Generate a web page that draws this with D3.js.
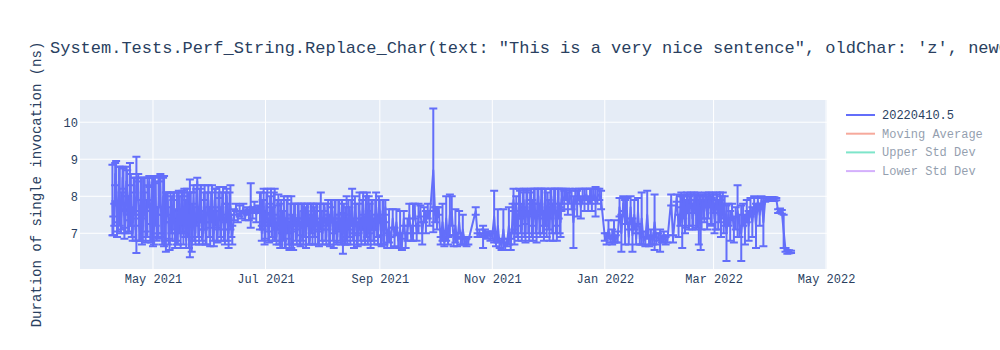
<!DOCTYPE html>
<html><head><meta charset="utf-8">
<script src="https://cdn.jsdelivr.net/npm/d3@7"></script>
<style>body{margin:0;background:#fff} text{font-family:"Liberation Mono","Courier New",monospace}</style>
</head><body><svg id="c" width="1000" height="350"></svg>
<script>
const titleText = "System.Tests.Perf_String.Replace_Char(text: \"This is a very nice sentence\", oldChar: 'z', newChar: 'y')";
const yTitle = "Duration of single invocation (ns)";
const startDate = new Date(2021, 3, 1);
const dayOffsets = [
8,9,10,11,12,13,14,15,16,17,18,19,20,21,
22,23,24,25,26,27,28,29,30,31,32,33,34,35,36,
37,38,39,40,41,42,43,44,
45,46,47,48,49,50,51,52,53,
54,55,56,57,58,59,60,61,62,63,64,65,66,67,68,69,70,71,72,73,
74,75,76,77,78,79,80,81,82,83,84,85,86,87,
88,89,90,91,92,93,94,95,96,97,98,
99,100,101,102,103,104,105,106,
107,108,109,110,111,112,113,114,115,116,117,118,119,120,121,122,123,
124,125,126,127,128,129,130,131,132,133,134,135,136,137,138,139,140,
141,142,143,144,145,146,147,148,149,150,151,152,153,154,155,156,
157,158,159,160,161,162,163,164,165,166,167,
168,169,170,171,172,173,174,175,176,177,178,179,180,182,183,184,185,
186,187,188,189,190,191,192,193,194,195,196,197,198,199,200,201,205,
206,207,208,209,210,211,212,213,214,215,
216,217,218,219,220,221,222,223,224,
225,226,227,228,229,230,231,232,233,234,235,236,237,238,239,240,241,242,243,244,245,246,247,248,249,250,251,252,
253,254,255,256,257,258,259,260,261,262,263,264,265,266,267,268,269,270,271,272,273,
275,276,277,278,279,280,281,282,
283,284,285,286,287,288,289,290,291,292,293,
294,295,296,297,298,299,300,301,302,303,304,305,306,307,308,309,311,312,314,315,
316,317,318,319,320,321,322,323,324,325,326,327,328,329,330,331,332,333,334,335,336,337,338,339,340,
341,342,343,344,345,346,347,348,349,350,351,352,353,
354,355,356,357,358,359,360,361,362,
363,364,365,366,367,368,369,370,371,372,373,374,375,376,
// second daily run
8.5,9.5,10.5,11.5,12.5,13.5,14.5,15.5,16.5,17.5,18.5,19.5,20.5,21.5,22.5,23.5,24.5,25.5,26.5,27.5,28.5,29.5,30.5,31.5,32.5,33.5,34.5,35.5,36.5,
37.5,38.5,39.5,40.5,41.5,42.5,43.5,44.5,45.5,46.5,47.5,48.5,49.5,50.5,51.5,52.5,53.5,54.5,55.5,56.5,57.5,58.5,59.5,60.5,61.5,62.5,63.5,64.5,65.5,66.5,67.5,68.5,69.5,70.5,71.5,72.5,
88.5,89.5,90.5,91.5,92.5,93.5,94.5,95.5,96.5,97.5,98.5,99.5,100.5,101.5,102.5,103.5,104.5,105.5,106.5,107.5,108.5,109.5,110.5,111.5,112.5,113.5,114.5,115.5,116.5,117.5,118.5,119.5,120.5,121.5,
122.5,123.5,124.5,125.5,126.5,127.5,128.5,129.5,130.5,131.5,132.5,133.5,134.5,135.5,136.5,137.5,138.5,139.5,140.5,141.5,142.5,143.5,144.5,145.5,146.5,147.5,148.5,149.5,150.5,151.5,152.5,153.5,154.5,155.5,
225.5,226.5,227.5,228.5,229.5,230.5,231.5,232.5,233.5,234.5,235.5,236.5,237.5,238.5,239.5,240.5,241.5,242.5,243.5,244.5,245.5,246.5,247.5,248.5,249.5,250.5,251.5,
316.5,317.5,318.5,319.5,320.5,321.5,322.5,323.5,324.5,325.5,326.5,327.5,328.5,329.5,330.5,331.5,332.5,333.5,334.5,335.5,336.5,337.5,338.5,339.5];
const durations = [
7.9,7.5,8.4,7.4,8.0,7.6,8.2,7.3,8.1,7.2,7.9,7.0,8.3,7.77,
8.5,7.0,7.6,8.3,6.9,7.7,8.4,7.0,7.6,8.45,6.9,7.7,8.5,6.85,7.6,
7.3,7.9,6.7,7.5,8.0,6.8,7.4,7.9,
6.9,7.6,8.1,6.8,7.5,7.4,6.7,8.2,7.0,
8.4,7.0,7.8,6.9,8.1,7.1,7.9,6.9,8.0,7.0,7.7,6.95,8.1,7.1,7.8,6.9,8.0,7.0,7.7,6.95,
7.5,7.7,7.4,7.6,7.5,7.7,7.45,7.6,7.5,7.75,7.55,7.7,7.5,7.65,
7.6,7.0,7.9,7.2,7.7,6.9,8.0,7.1,7.5,6.9,7.9,
7.2,6.8,7.7,7.0,7.5,6.7,7.3,6.8,
7.5,6.9,7.6,6.8,7.3,7.7,6.9,7.6,6.8,7.4,7.7,6.9,7.5,6.85,7.6,7.0,7.7,
6.9,7.6,7.0,7.8,6.8,7.5,6.9,7.7,7.0,7.0,6.8,7.4,7.7,6.9,7.7,6.8,7.5,
6.8,7.6,7.0,7.8,6.9,7.5,7.8,6.8,7.5,6.9,7.7,7.0,7.6,6.8,7.3,7.7,
6.8,7.2,6.75,7.4,6.9,7.3,6.8,7.1,6.7,7.4,6.8,
7.1,7.5,6.9,7.3,7.6,7.0,7.4,7.6,7.0,7.5,7.3,7.6,7.4,8.7,7.5,7.4,7.6,
6.8,7.3,6.75,7.4,6.8,7.5,7.6,6.8,7.2,6.75,7.3,6.8,7.1,6.8,6.75,6.8,7.6,
6.95,7.0,6.95,6.9,7.0,6.95,7.0,6.9,6.95,7.45,
6.75,7.2,6.7,6.7,7.1,6.65,6.75,7.2,6.7,
7.4,6.9,7.7,7.0,7.8,7.1,7.9,7.0,7.8,7.2,8.0,7.0,7.8,7.1,8.0,7.2,7.9,7.0,7.7,7.9,7.1,8.0,7.2,7.9,7.0,7.8,7.3,8.0,
7.9,8.05,7.8,8.0,7.9,7.3,8.0,7.8,8.05,7.7,8.0,7.9,8.05,7.8,8.0,7.9,8.05,7.85,8.0,8.05,7.9,
6.9,6.85,7.1,6.85,6.9,7.05,6.85,6.9,
7.7,7.0,7.8,7.3,7.6,6.9,7.7,6.95,7.5,6.85,7.6,
6.85,7.4,6.8,6.85,7.5,6.8,6.9,6.8,7.3,6.85,6.9,6.8,6.85,6.9,6.8,6.85,7.9,6.85,7.95,7.2,
7.6,7.3,7.9,7.5,7.8,7.6,7.9,7.5,7.8,7.6,7.2,7.3,7.9,7.6,7.95,7.7,7.9,7.6,7.8,7.5,7.85,7.6,7.4,7.8,7.6,
7.0,7.5,7.2,7.6,7.1,7.4,7.6,7.2,7.0,7.5,7.1,7.6,7.2,
7.7,7.3,7.8,7.2,7.85,7.5,7.9,7.3,7.9,
7.92,7.93,7.92,7.93,7.92,7.92,7.6,7.62,7.58,7.05,6.55,6.5,6.5,6.5,
// second daily run
7.2,8.6,7.1,8.3,7.3,8.5,7.0,8.4,7.5,8.6,7.3,8.0,7.1,8.2,7.2,8.0,7.1,8.1,7.4,8.0,7.2,8.2,7.1,7.8,7.3,8.1,7.2,8.0,7.2,
7.8,7.0,7.7,7.1,7.6,7.2,7.0,7.5,7.8,7.0,7.4,7.9,7.0,7.8,7.3,7.1,7.7,7.3,7.9,7.2,7.6,7.0,7.8,7.3,7.7,7.1,7.9,7.2,7.6,7.3,7.8,7.1,7.7,7.3,7.8,7.2,
7.9,7.5,7.0,7.8,7.1,7.6,7.3,7.8,7.0,7.5,7.0,7.6,7.2,6.9,7.6,7.0,7.5,7.1,7.6,7.1,7.5,7.0,7.6,7.0,7.3,7.5,7.1,7.6,7.0,7.3,7.6,7.0,7.5,7.2,
7.6,7.1,7.5,7.1,7.6,7.1,7.6,7.0,7.5,7.1,7.6,7.5,7.2,7.0,7.3,7.6,7.1,7.6,7.0,7.4,7.1,7.5,7.1,7.7,7.0,7.3,7.6,7.1,7.5,7.2,7.7,7.1,7.6,7.0,
7.9,7.4,7.2,7.9,7.4,7.8,7.3,7.9,7.3,7.8,7.4,7.9,7.3,7.9,7.4,7.9,7.3,7.8,7.2,7.5,7.8,7.4,7.9,7.3,7.9,7.4,7.9,
7.9,7.7,7.4,7.9,7.5,7.9,7.4,7.9,7.5,7.9,7.7,7.5,7.7,7.9,7.5,7.9,7.5,7.9,7.4,7.9,7.5,7.9,7.7,7.4];
const errors = [
0.95,0.3,0.55,0.35,0.8,0.5,0.55,0.3,0.6,0.15,0.7,0.2,0.2,1.3,
0.1,0.2,0.9,0.2,0.15,0.8,0.15,0.25,0.95,0.1,0.1,0.85,0.1,0.15,0.95,
0.8,0.2,0.15,0.5,0.1,0.2,0.7,0.25,
0.3,0.55,0.1,0.2,0.6,1.05,0.2,0.1,0.3,
0.1,0.3,0.5,0.2,0.2,0.4,0.4,0.25,0.3,0.35,0.5,0.2,0.15,0.3,0.45,0.2,0.2,0.4,0.6,0.25,
0.15,0.1,0.1,0.15,0.1,0.1,0.1,0.1,0.15,0.6,0.15,0.15,0.2,0.1,
0.5,0.2,0.3,0.35,0.5,0.15,0.2,0.3,0.7,0.2,0.15,
0.6,0.2,0.3,0.4,0.5,0.15,0.7,0.25,
0.3,0.2,0.2,0.15,0.5,0.1,0.3,0.2,0.1,0.4,0.1,0.2,0.3,0.2,0.5,0.3,0.1,
0.2,0.3,0.35,0.1,0.2,0.4,0.15,0.2,0.3,0.55,0.1,0.6,0.2,0.2,0.5,0.2,0.3,
0.15,0.5,0.3,0.3,0.2,0.6,0.2,0.2,0.4,0.2,0.4,0.3,0.3,0.15,0.6,0.2,
0.2,0.45,0.15,0.25,0.25,0.35,0.2,0.5,0.15,0.2,0.2,
0.3,0.3,0.1,0.5,0.2,0.2,0.4,0.15,0.3,0.2,0.3,0.2,0.2,1.67,0.2,0.3,0.1,
0.1,0.5,0.1,0.6,0.1,0.55,0.4,0.15,0.45,0.1,0.3,0.1,0.4,0.1,0.1,0.1,0.1,
0.05,0.1,0.05,0.3,0.1,0.1,0.05,0.1,0.1,0.7,
0.1,0.45,0.1,0.15,0.55,0.1,0.1,0.5,0.15,
0.4,0.2,0.3,0.2,0.35,0.3,0.3,0.25,0.35,0.4,0.2,0.2,0.4,0.35,0.2,0.3,0.3,0.2,0.5,0.2,0.3,0.2,0.4,0.3,0.2,0.4,0.4,0.2,
0.25,0.15,0.3,0.2,0.25,0.7,0.2,0.35,0.15,0.3,0.2,0.3,0.15,0.2,0.2,0.3,0.15,0.4,0.2,0.15,0.25,
0.1,0.15,0.25,0.1,0.2,0.3,0.1,0.15,
0.25,0.5,0.2,0.6,0.35,0.2,0.3,0.45,0.4,0.15,0.35,
0.15,0.7,0.1,0.2,0.65,0.15,0.2,0.1,0.75,0.15,0.1,0.3,0.1,0.15,0.1,0.1,0.15,0.1,0.1,0.3,
0.4,0.7,0.15,0.35,0.25,0.4,0.15,0.3,0.25,0.45,0.5,0.75,0.15,0.3,0.1,0.3,0.15,0.35,0.25,0.4,0.2,0.3,0.5,0.3,0.4,
0.75,0.3,0.4,0.2,0.35,0.3,0.7,0.3,0.75,0.3,0.4,0.3,0.4,
0.25,0.4,0.2,0.6,0.1,0.3,0.1,0.65,0.05,
0.05,0.05,0.05,0.05,0.05,0.03,0.05,0.05,0.05,0.45,0.05,0.05,0.04,0.03,
// second daily run
0.25,0.3,0.2,0.5,0.3,0.3,0.15,0.4,0.5,0.3,0.4,0.5,0.3,0.3,0.4,0.5,0.3,0.4,0.5,0.3,0.4,0.3,0.4,0.6,0.4,0.4,0.3,0.5,0.4,
0.3,0.3,0.4,0.3,0.5,0.4,0.3,0.5,0.3,0.3,0.5,0.3,0.4,0.3,0.5,0.3,0.5,0.4,0.3,0.4,0.5,0.3,0.3,0.4,0.4,0.3,0.3,0.4,0.5,0.4,0.3,0.3,0.4,0.5,0.3,0.3,
0.2,0.4,0.3,0.3,0.3,0.4,0.4,0.3,0.2,0.4,0.3,0.3,0.4,0.3,0.3,0.3,0.3,0.4,0.2,0.3,0.3,0.3,0.2,0.3,0.4,0.3,0.4,0.2,0.3,0.4,0.2,0.3,0.3,0.4,
0.2,0.3,0.3,0.4,0.3,0.3,0.3,0.3,0.4,0.3,0.3,0.3,0.5,0.3,0.4,0.3,0.3,0.4,0.3,0.4,0.3,0.4,0.3,0.3,0.3,0.5,0.3,0.3,0.4,0.3,0.3,0.4,0.3,0.3,
0.3,0.4,0.3,0.3,0.4,0.3,0.4,0.3,0.3,0.3,0.5,0.3,0.3,0.3,0.4,0.3,0.3,0.4,0.3,0.4,0.4,0.4,0.3,0.3,0.3,0.4,0.3,
0.2,0.3,0.4,0.2,0.4,0.2,0.3,0.2,0.4,0.2,0.3,0.4,0.3,0.2,0.4,0.2,0.3,0.2,0.4,0.2,0.4,0.2,0.3,0.4];
const xTickLabels = ["May 2021","Jul 2021","Sep 2021","Nov 2021","Jan 2022","Mar 2022","May 2022"];
const yTicks = [7, 8, 9, 10];
const legendNames = ["20220410.5", "Moving Average", "Upper Std Dev", "Lower Std Dev"];
const legendColors = ["#636efa", "#EF553B", "#00cc96", "#ab63fa"];
const legendVisible = [true, false, false, false];
const xRange = [new Date(2021, 2, 22, 10), new Date(2022, 4, 1, 12)];
const yRange = [6.035, 10.6];

const svg = d3.select("#c");
const L = 80, R = 827, T = 100, B = 269;
const x = d3.scaleTime().domain(xRange).range([L, R]);
const y = d3.scaleLinear().domain(yRange).range([B, T]);
const ink = "#2a3f5f";

svg.append("rect").attr("x", L).attr("y", T).attr("width", R - L).attr("height", B - T).attr("fill", "#E5ECF6");

const parseM = d3.timeParse("%b %Y");
const xTicks = xTickLabels.map(parseM);

const grid = svg.append("g");
grid.selectAll(".gx").data(xTicks).join("line")
  .attr("x1", d => x(d)).attr("x2", d => x(d)).attr("y1", T).attr("y2", B)
  .attr("stroke", "#fff").attr("stroke-width", 1);
grid.selectAll(".gy").data(yTicks).join("line")
  .attr("x1", L).attr("x2", R).attr("y1", d => y(d)).attr("y2", d => y(d))
  .attr("stroke", "#fff").attr("stroke-width", 1);

const xAxis = d3.axisBottom(x).tickValues(xTicks).tickFormat((d, i) => xTickLabels[i]).tickSize(0).tickPadding(0);
const gx = svg.append("g").attr("transform", `translate(0,${B})`).call(xAxis);
gx.select(".domain").remove();
gx.selectAll("text").attr("fill", ink).attr("font-size", 12).attr("font-family", "Liberation Mono, Courier New, monospace").attr("dy", null).attr("y", 14);

const yAxis = d3.axisLeft(y).tickValues(yTicks).tickFormat(d3.format("d")).tickSize(0).tickPadding(0);
const gy = svg.append("g").attr("transform", `translate(${L - 2},0)`).call(yAxis);
gy.select(".domain").remove();
gy.selectAll("text").attr("fill", ink).attr("font-size", 12).attr("font-family", "Liberation Mono, Courier New, monospace").attr("dy", "0.32em").attr("x", 0);

const n = Math.min(dayOffsets.length, durations.length, errors.length);
const pts = d3.range(n).map(i => ({ t: d3.timeHour.offset(startDate, Math.round(dayOffsets[i] * 24)), v: durations[i], e: errors[i] }))
  .sort((a, b) => a.t - b.t);

svg.append("clipPath").attr("id", "clip").append("rect").attr("x", L).attr("y", T).attr("width", R - L).attr("height", B - T);
const plot = svg.append("g").attr("clip-path", "url(#clip)");
const col = legendColors[0];

const eb = plot.append("g").attr("stroke", col).attr("stroke-width", 2).attr("fill", "none");
eb.selectAll("path").data(pts).join("path")
  .attr("d", p => {
    const cx = x(p.t), y1 = y(p.v + p.e), y2 = y(p.v - p.e);
    return `M${cx},${y1}V${y2}M${cx - 4},${y1}H${cx + 4}M${cx - 4},${y2}H${cx + 4}`;
  });

plot.append("path").datum(pts)
  .attr("fill", "none").attr("stroke", col).attr("stroke-width", 2).attr("stroke-linejoin", "round")
  .attr("d", d3.line().x(p => x(p.t)).y(p => y(p.v)));

svg.append("text").attr("x", 50).attr("y", 53).attr("fill", ink).attr("font-size", 17).text(titleText);
svg.append("text").attr("transform", `translate(41,${(T + B) / 2}) rotate(-90)`).attr("text-anchor", "middle")
  .attr("fill", ink).attr("font-size", 14).text(yTitle);

const lg = svg.append("g");
const rows = lg.selectAll("g").data(legendNames).join("g")
  .attr("transform", (d, i) => `translate(846,${115 + i * 18.7})`)
  .attr("opacity", (d, i) => legendVisible[i] ? 1 : 0.5);
rows.append("line").attr("x1", 0).attr("x2", 29).attr("y1", 0).attr("y2", 0)
  .attr("stroke", (d, i) => legendColors[i]).attr("stroke-width", 2);
rows.append("text").attr("x", 36).attr("y", 4).attr("font-size", 12).attr("fill", ink).text(d => d);
</script></body></html>
